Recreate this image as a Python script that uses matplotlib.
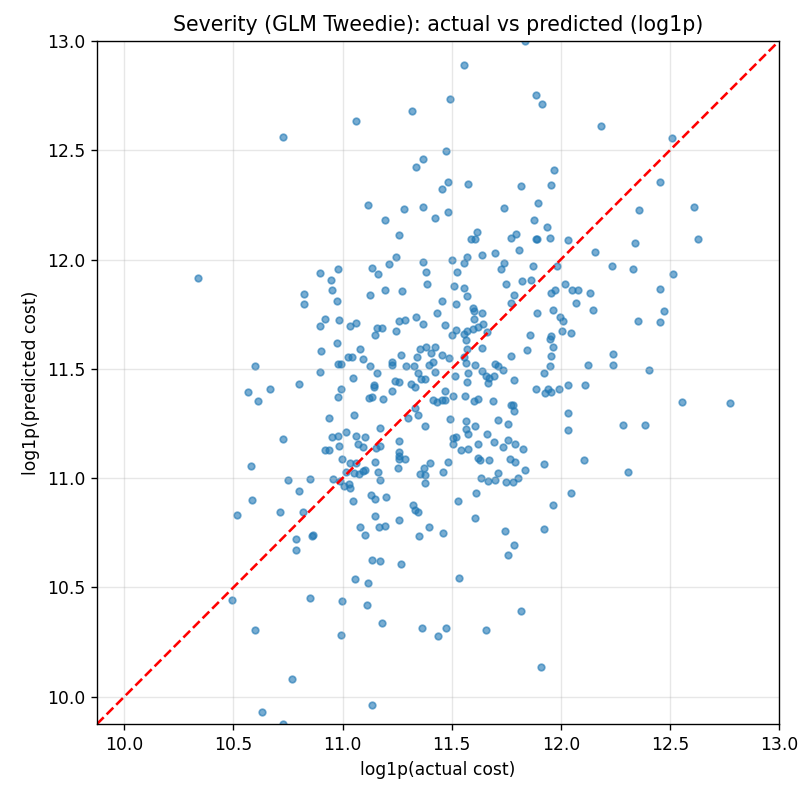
import matplotlib
matplotlib.use("Agg")
import matplotlib.pyplot as plt
import numpy as np

# log1p(actual cost) / log1p(predicted cost)
actual = [
    10.726, 10.337, 10.895, 10.945, 10.950, 10.825, 10.825, 10.919, 10.895, 10.901,
    10.895, 10.601, 10.569, 10.613, 10.668, 10.799, 10.938, 10.950, 10.919, 10.938,
    10.726, 10.581, 10.750, 10.852, 10.957, 10.800, 10.587, 10.712, 10.820, 10.518,
    10.788, 10.858, 10.864, 10.788, 10.494, 10.852, 10.601, 10.770, 10.631, 10.726,
    12.183, 12.509, 12.454, 12.359, 12.612, 12.341, 12.630, 12.159, 12.234, 12.329,
    12.515, 12.133, 12.454, 12.147, 12.472, 12.353, 12.454, 12.240, 12.127, 12.240,
    12.404, 12.554, 12.774, 12.284, 12.385, 12.307,
    11.494, 11.318, 11.060, 11.476, 11.369, 11.336, 11.483, 11.456, 11.116, 11.280,
    11.369, 11.483,
    11.835, 11.555, 11.885, 11.916, 11.968, 11.576, 11.817, 11.954, 11.898, 11.742,
    11.193, 11.425, 11.260, 10.980, 11.243, 11.211, 11.136, 11.161, 11.369, 11.381,
    11.388, 11.502, 11.526, 11.512, 11.128, 11.193, 11.274, 11.457, 11.520, 10.974,
    10.985, 10.974, 10.980, 10.991, 11.034, 11.061, 11.156, 11.180, 11.148, 11.243,
    11.260, 11.287, 11.336, 11.369, 11.431, 11.468, 11.518, 11.502, 11.080, 11.023,
    11.043, 11.092, 11.124, 11.157, 11.229, 11.229, 11.269, 11.292, 11.326, 11.343,
    11.356, 11.382, 11.425, 11.405, 11.456, 11.489, 11.416, 11.394, 11.346, 11.359,
    11.379, 11.422, 11.049, 11.144, 11.239, 11.257, 11.312, 11.517,
    11.878, 11.937, 11.615, 11.590, 11.609, 11.772, 11.797, 11.885, 11.893, 11.950,
    12.032, 11.810, 11.697, 11.641, 11.572, 11.557, 11.740, 11.728, 11.873, 11.982,
    11.748, 11.823, 11.865, 11.557, 11.570, 11.786, 11.772, 11.974, 11.956, 12.018,
    12.050, 12.081, 12.069, 11.891, 11.966, 11.599, 11.602, 11.641, 11.604, 11.644,
    11.622, 11.598, 11.572, 11.555, 11.564, 11.662, 11.997, 12.008, 12.005, 12.047,
    11.861, 11.956, 11.950, 11.963, 11.847, 11.641, 11.572, 11.956, 11.771, 11.950,
    11.557, 11.564, 11.607, 11.699, 11.713, 11.641, 11.656, 11.573, 11.672, 11.694,
    11.737, 11.572, 11.665, 11.784, 11.922,
    10.994, 10.977, 11.142, 11.225, 11.122, 11.135, 11.187, 11.332, 11.333, 11.344,
    11.300, 11.413, 11.433, 11.456, 11.468, 11.469, 11.508, 11.494, 11.379, 11.054,
    11.173, 11.015, 10.977, 11.061, 11.104, 10.985, 11.069, 11.092, 11.153, 11.173,
    11.260, 11.260, 11.260, 11.260, 11.287, 11.254, 10.997, 11.034, 11.064, 11.150,
    11.054, 11.076, 11.092, 11.101, 11.015, 11.161, 11.174, 11.373, 11.402, 11.355,
    11.376, 11.379, 11.483, 11.462, 11.505, 11.520, 11.505, 11.544, 10.988, 11.008,
    11.031, 11.034, 11.130, 11.150, 11.199, 11.046, 11.324, 11.333, 11.344, 11.531,
    11.150, 11.260, 11.165, 11.194, 11.080, 11.104, 11.394, 11.349, 11.462,
    11.888, 11.928, 11.943, 11.954, 11.992, 12.113, 12.035, 11.561, 11.602, 11.620,
    11.690, 11.771, 11.779, 11.786, 11.564, 11.564, 11.576, 11.607, 11.714, 11.760,
    11.664, 11.696, 11.622, 11.737, 11.760, 11.789, 11.829, 11.576, 11.620, 11.628,
    11.671, 11.766, 11.791, 11.835, 11.714, 11.699, 11.668, 11.633, 11.751, 11.783,
    11.804, 11.924, 12.031, 12.031, 12.106, 12.049, 11.966, 11.612, 11.605, 11.745,
    11.924, 11.787, 11.760,
    11.135, 11.173, 11.269, 11.055, 11.116, 11.532, 10.997, 11.110, 11.180, 10.991,
    11.362, 11.437, 11.476, 11.135,
    11.817, 11.659, 11.910,
]

predicted = [
    12.562, 11.914, 11.938, 11.908, 11.859, 11.841, 11.795, 11.728, 11.695, 11.582,
    11.486, 11.512, 11.394, 11.355, 11.406, 11.430, 11.275, 11.187, 11.129, 11.129,
    11.179, 11.056, 10.992, 10.998, 10.998, 10.942, 10.902, 10.847, 10.847, 10.829,
    10.721, 10.733, 10.741, 10.671, 10.444, 10.452, 10.307, 10.082, 9.932, 9.875,
    12.612, 12.556, 12.355, 12.229, 12.241, 12.078, 12.092, 12.034, 11.972, 11.958,
    11.934, 11.845, 11.865, 11.769, 11.763, 11.721, 11.713, 11.570, 11.518, 11.518,
    11.494, 11.349, 11.343, 11.243, 11.243, 11.030,
    12.735, 12.679, 12.635, 12.498, 12.461, 12.423, 12.355, 12.323, 12.248, 12.230,
    12.242, 12.218,
    13.000, 12.891, 12.755, 12.711, 12.411, 12.348, 12.336, 12.342, 12.261, 12.235,
    12.182, 12.188, 12.112, 11.956, 12.012, 11.980, 11.962, 11.936, 11.988, 11.942,
    11.888, 12.000, 11.942, 11.881, 11.837, 11.862, 11.856, 11.812, 11.795, 11.812,
    11.723, 11.617, 11.521, 11.521, 11.698, 11.711, 11.688, 11.685, 11.657, 11.675,
    11.717, 11.723, 11.737, 11.705, 11.757, 11.699, 11.679, 11.655, 11.593, 11.556,
    11.556, 11.544, 11.511, 11.480, 11.530, 11.518, 11.562, 11.511, 11.511, 11.555,
    11.593, 11.599, 11.599, 11.571, 11.562, 11.550, 11.530, 11.517, 11.480, 11.454,
    11.454, 11.485, 11.456, 11.426, 11.445, 11.438, 11.429, 11.468,
    12.182, 12.150, 12.126, 12.094, 12.094, 12.100, 12.119, 12.094, 12.094, 12.100,
    12.091, 12.044, 12.032, 12.020, 12.012, 11.982, 11.983, 11.957, 11.970, 11.970,
    11.888, 11.900, 11.906, 11.868, 11.834, 11.837, 11.799, 11.863, 11.845, 11.888,
    11.862, 11.862, 11.799, 11.757, 11.767, 11.780, 11.766, 11.757, 11.729, 11.705,
    11.693, 11.684, 11.672, 11.660, 11.632, 11.667, 11.736, 11.720, 11.673, 11.663,
    11.655, 11.650, 11.635, 11.599, 11.587, 11.594, 11.590, 11.561, 11.561, 11.511,
    11.553, 11.526, 11.518, 11.523, 11.511, 11.492, 11.465, 11.480, 11.456, 11.468,
    11.495, 11.442, 11.435, 11.450, 11.480,
    11.407, 11.372, 11.418, 11.400, 11.368, 11.372, 11.362, 11.418, 11.322, 11.289,
    11.277, 11.357, 11.347, 11.357, 11.357, 11.400, 11.376, 11.270, 11.237, 11.289,
    11.228, 11.213, 11.195, 11.195, 11.187, 11.149, 11.155, 11.143, 11.137, 11.149,
    11.170, 11.119, 11.103, 11.088, 11.088, 11.046, 11.088, 11.067, 11.067, 11.073,
    11.024, 11.018, 11.033, 11.036, 11.027, 11.026, 10.992, 11.046, 11.067, 11.018,
    11.012, 10.976, 11.073, 11.026, 11.182, 11.190, 11.155, 11.128, 10.985, 10.962,
    10.973, 10.954, 10.924, 10.906, 10.912, 10.894, 10.875, 10.856, 10.845, 10.894,
    10.825, 10.807, 10.775, 10.780, 10.775, 10.742, 10.775, 10.737, 10.751,
    11.407, 11.389, 11.407, 11.396, 11.407, 11.426, 11.426, 11.377, 11.353, 11.362,
    11.353, 11.333, 11.333, 11.309, 11.260, 11.225, 11.202, 11.237, 11.266, 11.249,
    11.204, 11.166, 11.154, 11.142, 11.176, 11.154, 11.132, 11.132, 11.094, 11.082,
    11.081, 11.088, 11.073, 11.036, 11.024, 10.991, 10.985, 11.000, 10.982, 10.982,
    11.000, 11.064, 11.296, 11.220, 11.081, 10.932, 10.875, 10.932, 10.818, 10.757,
    10.769, 10.693, 10.650,
    10.626, 10.620, 10.608, 10.538, 10.518, 10.545, 10.438, 10.420, 10.338, 10.282,
    10.314, 10.276, 10.314, 9.964,
    10.394, 10.306, 10.138,
]

y_true = np.array(actual)
y_pred = np.array(predicted)

fig = plt.figure(figsize=(802 / 123, 786 / 123), dpi=123)
ax = fig.add_subplot(111)
fig.subplots_adjust(left=97 / 802, right=779 / 802, top=1 - 41 / 786, bottom=1 - 724 / 786)

ax.scatter(y_true, y_pred, s=15, alpha=0.6)

lo = min(y_true.min(), y_pred.min())
hi = max(y_true.max(), y_pred.max())
ax.plot([lo, hi], [lo, hi], "r--", lw=1.5)
ax.set_xlim(lo, hi)
ax.set_ylim(lo, hi)

ax.set_title("Severity (GLM Tweedie): actual vs predicted (log1p)")
ax.set_xlabel("log1p(actual cost)")
ax.set_ylabel("log1p(predicted cost)")
ax.grid(True, alpha=0.3)

fig.savefig("out.png", dpi=123)
